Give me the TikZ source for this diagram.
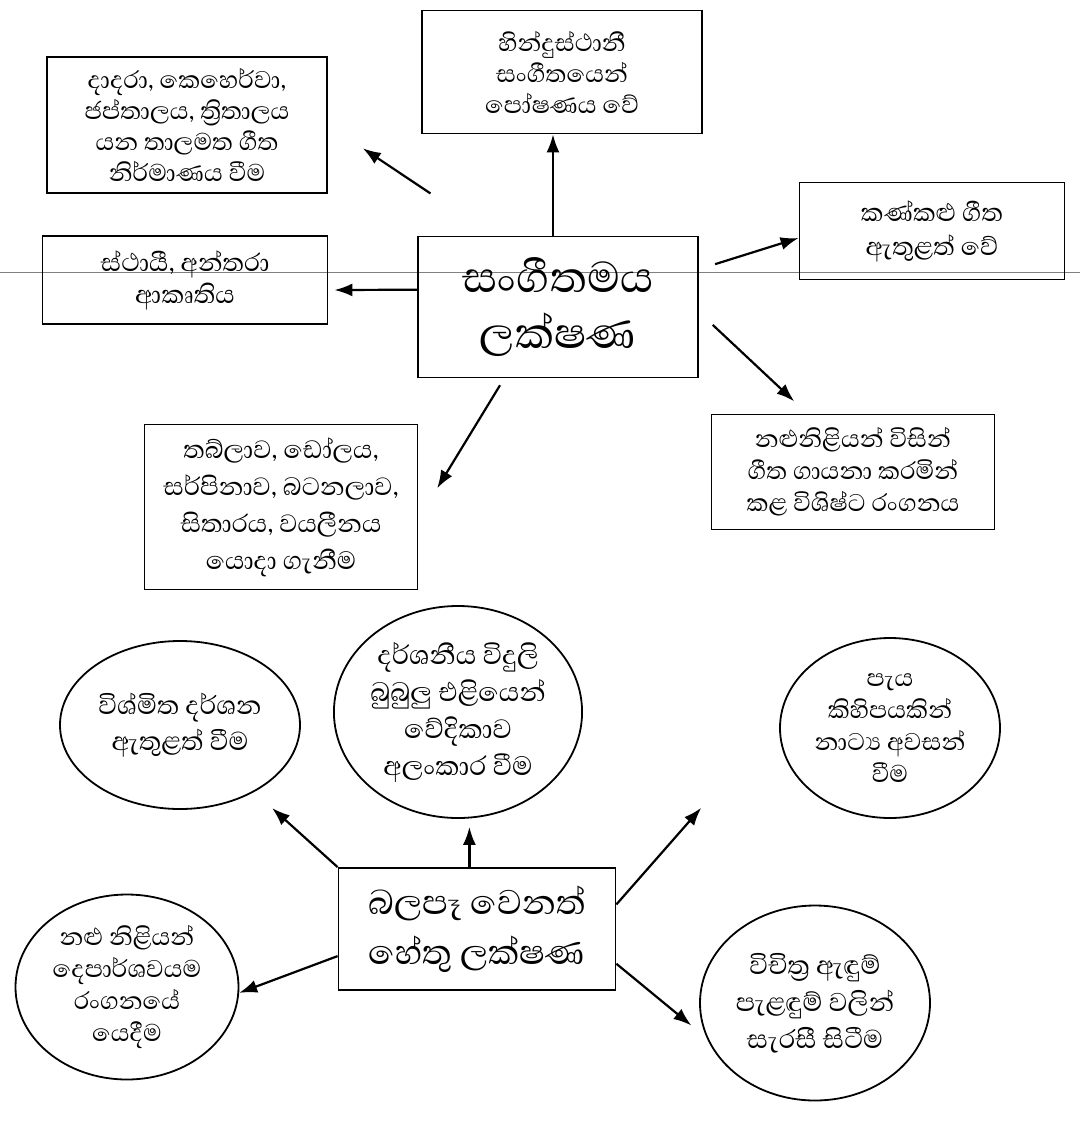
\documentclass[tikz,border=0pt]{standalone}
\usepackage{fontspec}
\newfontfamily\sinhala[Script=Sinhala]{Abhaya Libre}
\usetikzlibrary{arrows.meta,shapes.geometric}

\begin{document}
\begin{tikzpicture}[x=1pt, y=-1pt,
    box/.style={draw=black, line width=1.8pt, align=center, inner sep=0pt, font=\sinhala\fontsize{31}{31}\selectfont},
    bubble/.style={shape=ellipse, draw=black, line width=1.8pt, align=center, inner sep=0pt, font=\sinhala\fontsize{33}{36}\selectfont},
    arr/.style={-{Latex[length=18pt,width=13pt]}, line width=2.2pt}]
    \useasboundingbox (0,0) rectangle (1080,1122);
    \draw[gray, line width=0.8pt] (0,272) -- (1080,272);

    \node[box, minimum width=280pt, minimum height=136pt] at (187,125) (tala) {දාදරා, කෙහෙර්වා,\\ජප්තාලය, ත්^^^^200dරිතාලය\\යන තාලමත ගීත\\නිර්මාණය වීම};
    \node[box, minimum width=280pt, minimum height=123pt] at (562,72) (hind) {හින්දුස්ථානී\\සංගීතයෙන්\\පෝෂණය වේ};
    \node[box, minimum width=265pt, minimum height=97pt, font=\sinhala\fontsize{32}{34}\selectfont] at (932,231) (kan) {කණ්කළු ගීත\\ඇතුළත් වේ};
    \node[box, minimum width=285pt, minimum height=88pt, font=\sinhala\fontsize{32}{32}\selectfont] at (185,280) (sth) {ස්ථායී, අන්තරා\\ආකෘතිය};
    \node[box, minimum width=280pt, minimum height=141pt, font=\sinhala\fontsize{55}{56}\selectfont] at (558,307) (sang) {සංගීතමය\\ලක්ෂණ};
    \node[box, minimum width=273pt, minimum height=165pt, font=\sinhala\fontsize{32}{37}\selectfont] at (281,507) (vad) {තබ්ලාව, ඩෝලය,\\සර්පිනාව, බටනලාව,\\සිතාරය, වයලීනය\\යොදා ගැනීම};
    \node[box, minimum width=283pt, minimum height=115pt, font=\sinhala\fontsize{31}{32}\selectfont] at (853,472) (ranga) {නළුනිළියන් විසින්\\ගීත ගායනා කරමින්\\කළ විශිෂ්ට රංගනය};

    \path [arr] (sang.132) edge[shorten <=76pt, shorten >=42pt] (tala.east);
    \path [arr] ([xshift=-5pt]sang.north) edge ([xshift=-9pt]hind.south);
    \path [arr] (sang.15) edge[shorten <=17pt] (kan.183);
    \path [arr] (sang.173) edge[shorten >=6pt] (sth.-4);
    \path [arr] (sang.-2) edge[shorten <=19pt, shorten >=18pt] (ranga.128);
    \path [arr] (sang.233) edge[shorten <=8pt, shorten >=36pt] (vad.-5);

    \node[bubble, minimum width=240pt, minimum height=168pt] at (180,725) (vism) {විශ්මිත දර්ශන\\ඇතුළත් වීම};
    \node[bubble, minimum width=228pt, minimum height=212pt, font=\sinhala\fontsize{34}{37}\selectfont] at (458,712) (vidu) {දර්ශනීය විදුලි\\බුබුලු එළියෙන්\\වේදිකාව\\අලංකාර වීම};
    \node[bubble, minimum width=220pt, minimum height=180pt, font=\sinhala\fontsize{31}{32}\selectfont] at (890,728) (paya) {පැය\\කිහිපයකින්\\නාට්^^^^200dය අවසන්\\වීම};
    \node[box, minimum width=277pt, minimum height=122pt, font=\sinhala\fontsize{44}{50}\selectfont] at (477,929) (bala) {බලපෑ වෙනත්\\හේතු ලක්ෂණ};
    \node[bubble, minimum width=223pt, minimum height=185pt, font=\sinhala\fontsize{31}{32}\selectfont] at (127,987) (nalu) {නළු නිළියන්\\දෙපාර්ශවයම\\රංගනයේ\\යෙදීම};
    \node[bubble, minimum width=230pt, minimum height=195pt, font=\sinhala\fontsize{33}{37}\selectfont] at (815,1003) (vich) {විචිත්^^^^200dර ඇඳුම්\\පැළඳුම් වලින්\\සැරසී සිටීම};

    \path [arr] (bala.north west) edge[shorten >=24pt] (vism);
    \path [arr] (bala.97) edge[shorten >=8pt] (bala.97 |- vidu.south);
    \path [arr] (bala.10) edge[shorten >=119pt] (paya.175);
    \path [arr] (bala.191) edge (nalu.-3);
    \path [arr] (bala.-14) edge[shorten >=20pt] (vich.198);
\end{tikzpicture}
\end{document}
